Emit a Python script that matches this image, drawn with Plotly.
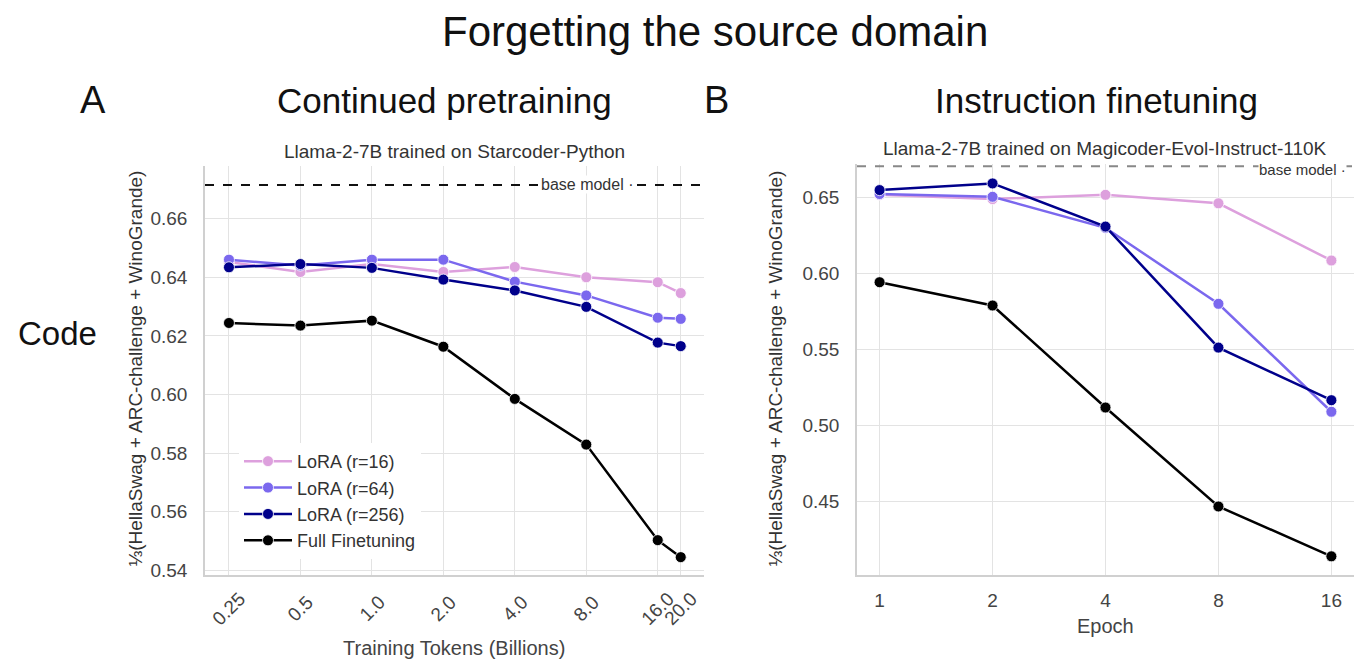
import math
import plotly.graph_objects as go

# ---------------- data ----------------
tokens = [0.25, 0.5, 1.0, 2.0, 4.0, 8.0, 16.0, 20.0]
token_labels = ["0.25", "0.5", "1.0", "2.0", "4.0", "8.0", "16.0", "20.0"]
cpt_lora16 = [0.6452, 0.6418, 0.6445, 0.6418, 0.6435, 0.6400, 0.6383, 0.6346]
cpt_lora64 = [0.6460, 0.6440, 0.6460, 0.6460, 0.6385, 0.6338, 0.6262, 0.6258]
cpt_lora256 = [0.6434, 0.6445, 0.6432, 0.6392, 0.6355, 0.6299, 0.6177, 0.6165]
cpt_full = [0.6244, 0.6235, 0.6252, 0.6163, 0.5985, 0.5829, 0.5503, 0.5445]
cpt_base = 0.6715

epochs = [1, 2, 4, 8, 16]
epoch_labels = ["1", "2", "4", "8", "16"]
ift_lora16 = [0.6517, 0.6489, 0.6517, 0.6461, 0.6085]
ift_lora64 = [0.6522, 0.6504, 0.6300, 0.5800, 0.5090]
ift_lora256 = [0.6548, 0.6592, 0.6308, 0.5512, 0.5166]
ift_full = [0.5942, 0.5789, 0.5118, 0.4467, 0.4139]
ift_base = 0.6705

series_names = ["LoRA (r=16)", "LoRA (r=64)", "LoRA (r=256)", "Full Finetuning"]
colors = ["#DDA0DD", "#7B68EE", "#00008B", "#000000"]

W, H = 1368, 660
FONT = "Liberation Sans, Arial, sans-serif"


def px(x):
    return x / W


def py(y):
    return 1 - y / H


fig = go.Figure()

cpt = [cpt_lora16, cpt_lora64, cpt_lora256, cpt_full]
ift = [ift_lora16, ift_lora64, ift_lora256, ift_full]

for name, col, ys in zip(series_names, colors, cpt):
    fig.add_trace(go.Scatter(
        x=tokens, y=ys, name=name, mode="lines+markers",
        line=dict(color=col, width=2.5),
        marker=dict(color=col, size=11, line=dict(color="white", width=0.8)),
        xaxis="x", yaxis="y", legendgroup=name, showlegend=True))

for name, col, ys in zip(series_names, colors, ift):
    fig.add_trace(go.Scatter(
        x=epochs, y=ys, name=name, mode="lines+markers",
        line=dict(color=col, width=2.5),
        marker=dict(color=col, size=11, line=dict(color="white", width=0.8)),
        xaxis="x2", yaxis="y2", legendgroup=name, showlegend=False))

grid = "#e3e3e3"
tickfont = dict(family=FONT, size=19, color="#444444")

L_x0, L_x1, R_x0, R_x1 = 205, 704, 857, 1354
top_L, top_R, bot = 168, 165, 580

fig.update_layout(
    width=W, height=H,
    margin=dict(l=0, r=0, t=0, b=0),
    paper_bgcolor="white", plot_bgcolor="white",
    font=dict(family=FONT, color="#222222"),
    showlegend=True,
    legend=dict(x=px(239), y=py(447), xanchor="left", yanchor="top",
                bgcolor="white", borderwidth=0,
                font=dict(family=FONT, size=18, color="#333333"),
                tracegroupgap=0, itemwidth=48),
    xaxis=dict(domain=[px(L_x0), px(L_x1)], type="log",
               range=[-0.703, 1.399], tickvals=tokens, showticklabels=False,
               showgrid=True, gridcolor=grid,
               gridwidth=1.2, zeroline=False, showline=True, linecolor="#d0d0d0",
               linewidth=1.5, ticks="", anchor="y"),
    yaxis=dict(domain=[py(bot), py(top_L)], range=[0.5385, 0.6778],
               tickvals=[0.54, 0.56, 0.58, 0.60, 0.62, 0.64, 0.66],
               tickformat=".2f", tickfont=tickfont, showgrid=True, gridcolor=grid,
               gridwidth=1.2, zeroline=False, showline=True, linecolor="#d0d0d0",
               linewidth=1.5, ticks="", ticklabelstandoff=12, anchor="x"),
    xaxis2=dict(domain=[px(R_x0), px(R_x1)], type="log",
                range=[-0.0602, 1.2644], tickvals=epochs, ticktext=epoch_labels,
                tickfont=tickfont, showgrid=True, gridcolor=grid, gridwidth=1.2,
                zeroline=False, showline=True, linecolor="#d0d0d0", linewidth=1.5,
                ticks="", ticklabelstandoff=8, anchor="y2"),
    yaxis2=dict(domain=[py(bot), py(top_R)], range=[0.4018, 0.6723],
                tickvals=[0.45, 0.50, 0.55, 0.60, 0.65], tickformat=".2f",
                tickfont=tickfont, showgrid=True, gridcolor=grid, gridwidth=1.2,
                zeroline=False, showline=True, linecolor="#d0d0d0", linewidth=1.5,
                ticks="", ticklabelstandoff=12, anchor="x2"),
)

# base model reference lines
fig.add_shape(type="line", xref="x domain", yref="y", x0=0, x1=1,
              y0=cpt_base, y1=cpt_base, line=dict(color="#111111", width=2, dash="dash"))
fig.add_shape(type="line", xref="x2 domain", yref="y2", x0=0, x1=1,
              y0=ift_base, y1=ift_base, line=dict(color="#888888", width=1.8, dash="dash"))

ann = []
ann.append(dict(xref="x domain", yref="y", x=0.862, y=cpt_base, xanchor="right",
                yanchor="middle", text="base model ·", showarrow=False,
                bgcolor="white", borderpad=0,
                font=dict(family=FONT, size=16, color="#333333")))
ann.append(dict(xref="x2 domain", yref="y2", x=0.985, y=ift_base, xanchor="right",
                yanchor="middle", yshift=-3, text="base model ·", showarrow=False,
                bgcolor="white", borderpad=0,
                font=dict(family=FONT, size=15, color="#333333")))

# rotated tick labels of the token axis, centred on each tick
for t, lab in zip(tokens, token_labels):
    ann.append(dict(xref="x", yref="paper", x=math.log10(t), y=py(614), text=lab,
                    showarrow=False, textangle=-45, xanchor="center", yanchor="middle",
                    font=tickfont))

# titles
ann.append(dict(xref="paper", yref="paper", x=px(715), y=py(32), text="Forgetting the source domain",
                showarrow=False, xanchor="center", yanchor="middle",
                font=dict(family=FONT, size=42, color="#111111")))
ann.append(dict(xref="paper", yref="paper", x=px(93), y=py(101), text="A",
                showarrow=False, xanchor="center", yanchor="middle",
                font=dict(family=FONT, size=38, color="#111111")))
ann.append(dict(xref="paper", yref="paper", x=px(716), y=py(101), text="B",
                showarrow=False, xanchor="center", yanchor="middle",
                font=dict(family=FONT, size=38, color="#111111")))
ann.append(dict(xref="paper", yref="paper", x=px(445), y=py(101), text="Continued pretraining",
                showarrow=False, xanchor="center", yanchor="middle",
                font=dict(family=FONT, size=35, color="#111111")))
ann.append(dict(xref="paper", yref="paper", x=px(1096), y=py(101), text="Instruction finetuning",
                showarrow=False, xanchor="center", yanchor="middle",
                font=dict(family=FONT, size=35, color="#111111")))
ann.append(dict(xref="paper", yref="paper", x=px(57), y=py(337), text="Code",
                showarrow=False, xanchor="center", yanchor="middle",
                font=dict(family=FONT, size=33, color="#111111")))
ann.append(dict(xref="paper", yref="paper", x=px(454), y=py(153),
                text="Llama-2-7B trained on Starcoder-Python",
                showarrow=False, xanchor="center", yanchor="middle",
                font=dict(family=FONT, size=19, color="#333333")))
ann.append(dict(xref="paper", yref="paper", x=px(1105), y=py(150),
                text="Llama-2-7B trained on Magicoder-Evol-Instruct-110K",
                showarrow=False, xanchor="center", yanchor="middle",
                font=dict(family=FONT, size=19, color="#333333")))
ylab = "⅓(HellaSwag + ARC-challenge + WinoGrande)"
ann.append(dict(xref="paper", yref="paper", x=px(136), y=py(372), text=ylab,
                showarrow=False, textangle=-90, xanchor="center", yanchor="middle",
                font=dict(family=FONT, size=19, color="#333333")))
ann.append(dict(xref="paper", yref="paper", x=px(776), y=py(372), text=ylab,
                showarrow=False, textangle=-90, xanchor="center", yanchor="middle",
                font=dict(family=FONT, size=19, color="#333333")))
ann.append(dict(xref="paper", yref="paper", x=px(454), y=py(654),
                text="Training Tokens (Billions)",
                showarrow=False, xanchor="center", yanchor="middle",
                font=dict(family=FONT, size=20, color="#444444")))
ann.append(dict(xref="paper", yref="paper", x=px(1105), y=py(632), text="Epoch",
                showarrow=False, xanchor="center", yanchor="middle",
                font=dict(family=FONT, size=20, color="#444444")))

fig.update_layout(annotations=ann)
fig.write_html("out.html")
